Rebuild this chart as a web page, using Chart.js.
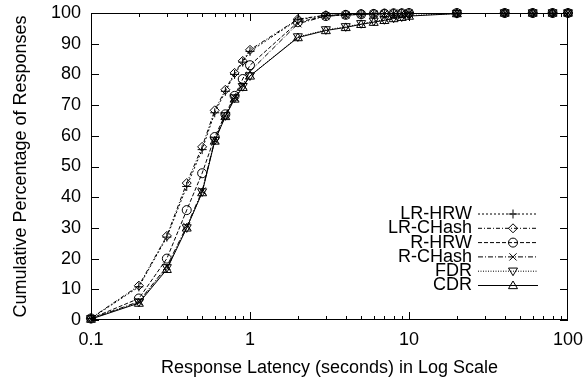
<!DOCTYPE html>
<html>
<head>
<meta charset="utf-8">
<script src="https://cdn.jsdelivr.net/npm/chart.js@4/dist/chart.umd.min.js"></script>
<style>
    html, body { margin: 0; padding: 0; background: #fff; }
    #wrap { width: 584px; height: 379px; }
</style>
</head>
<body>
<div id="wrap"><canvas id="chart" width="584" height="379"></canvas></div>
<script>
// Data
const latency = [0.1, 0.2, 0.3, 0.4, 0.5, 0.6, 0.7, 0.8, 0.9, 1, 2, 3, 4, 5, 6, 7, 8, 9, 10, 20, 40, 60, 80, 100];

const lrHrw   = [0.5, 10.8, 27, 43.5, 55.5, 67.5, 74.5, 80, 84, 87.5, 97.8, 99.2, 99.5, 99.6, 99.7, 99.8, 99.9, 99.9, 100, 100, 100, 100, 100, 100];
const lrChash = [0.6, 11.2, 27.4, 44.6, 56.4, 68.3, 75, 80.5, 84.4, 88, 98, 99.3, 99.5, 99.7, 99.8, 99.9, 99.9, 100, 100, 100, 100, 100, 100, 100];
const rHrw    = [0.5, 7, 20, 35.8, 47.8, 59.6, 67, 73, 78.5, 83, 97, 99, 99.4, 99.6, 99.7, 99.8, 99.9, 99.9, 100, 100, 100, 100, 100, 100];
const rChash  = [0.4, 6, 17.5, 30.5, 42, 58.6, 66.5, 72.5, 76.5, 81, 96.5, 99, 99.3, 99.5, 99.7, 99.8, 99.9, 99.9, 100, 100, 100, 100, 100, 100];
const fdr     = [0.4, 5.8, 17, 30, 41.7, 58.5, 66.5, 72.3, 76, 79.5, 92.2, 94.5, 95.5, 96.5, 97.3, 97.8, 98.3, 98.7, 99.2, 99.8, 100, 100, 100, 100];
const cdr     = [0.3, 5.5, 16.5, 30, 41.5, 58.3, 66.3, 72, 75.8, 79.5, 92, 94.3, 95.3, 96.3, 97, 97.6, 98.2, 98.6, 99, 99.8, 100, 100, 100, 100];

const seriesNames = ['LR-HRW', 'LR-CHash', 'R-HRW', 'R-CHash', 'FDR', 'CDR'];
const xTicks = [0.1, 1, 10, 100];
const yTicks = [0, 10, 20, 30, 40, 50, 60, 70, 80, 90, 100];

const FONT = 'Liberation Sans, Arial, Helvetica, sans-serif';

function toPoints(ys) {
    return latency.map((x, i) => ({ x: x, y: ys[i] }));
}

const styles = [
    { data: lrHrw,   dash: [2, 2],       marker: 'cross' },
    { data: lrChash, dash: [4, 2, 1, 2], marker: 'diamond' },
    { data: rHrw,    dash: [4, 2],       marker: 'circle' },
    { data: rChash,  dash: [5, 2, 1, 2], marker: 'x' },
    { data: fdr,     dash: [1, 1.5],     marker: 'tridown' },
    { data: cdr,     dash: [],           marker: 'triup' }
];

// marker drawing shared by the points and the legend
function drawMarker(ctx, type, x, y) {
    const r = 4.5;
    ctx.beginPath();
    switch (type) {
        case 'cross':
            ctx.moveTo(x - r, y); ctx.lineTo(x + r, y);
            ctx.moveTo(x, y - r); ctx.lineTo(x, y + r);
            break;
        case 'x':
            ctx.moveTo(x - r * 0.8, y - r * 0.8); ctx.lineTo(x + r * 0.8, y + r * 0.8);
            ctx.moveTo(x - r * 0.8, y + r * 0.8); ctx.lineTo(x + r * 0.8, y - r * 0.8);
            break;
        case 'diamond':
            ctx.moveTo(x, y - r); ctx.lineTo(x + r, y); ctx.lineTo(x, y + r); ctx.lineTo(x - r, y); ctx.closePath();
            break;
        case 'circle':
            ctx.arc(x, y, r, 0, Math.PI * 2);
            break;
        case 'triup':
            ctx.moveTo(x, y - r); ctx.lineTo(x + r, y + r * 0.7); ctx.lineTo(x - r, y + r * 0.7); ctx.closePath();
            break;
        case 'tridown':
            ctx.moveTo(x, y + r); ctx.lineTo(x + r, y - r * 0.7); ctx.lineTo(x - r, y - r * 0.7); ctx.closePath();
            break;
    }
    ctx.stroke();
}

const markerPlugin = {
    id: 'markers',
    afterDatasetsDraw(chart) {
        const ctx = chart.ctx;
        const xs = chart.scales.x, ys = chart.scales.y;
        ctx.save();
        ctx.strokeStyle = '#000';
        ctx.lineWidth = 1;
        ctx.setLineDash([]);
        chart.data.datasets.forEach((ds, i) => {
            ds.data.forEach(p => {
                drawMarker(ctx, styles[i].marker, xs.getPixelForValue(p.x), ys.getPixelForValue(p.y));
            });
        });
        ctx.restore();
    }
};

const framePlugin = {
    id: 'frame',
    afterDraw(chart) {
        const ctx = chart.ctx;
        const a = chart.chartArea;
        const xs = chart.scales.x, ys = chart.scales.y;
        ctx.save();
        ctx.strokeStyle = '#000';
        ctx.lineWidth = 1;
        ctx.setLineDash([]);
        ctx.strokeRect(a.left + 0.5, a.top + 0.5, a.right - a.left - 1, a.bottom - a.top - 1);

        ctx.beginPath();
        // y ticks on both sides
        yTicks.forEach(v => {
            const py = Math.round(ys.getPixelForValue(v)) + 0.5;
            ctx.moveTo(a.left, py); ctx.lineTo(a.left + 8, py);
            ctx.moveTo(a.right, py); ctx.lineTo(a.right - 8, py);
        });
        // x ticks, major and minor
        for (let dec = 0.1; dec < 100; dec *= 10) {
            for (let m = 1; m <= 9; m++) {
                const v = dec * m;
                const px = Math.round(xs.getPixelForValue(v)) + 0.5;
                const len = m === 1 ? 8 : 4;
                ctx.moveTo(px, a.bottom); ctx.lineTo(px, a.bottom - len);
                ctx.moveTo(px, a.top); ctx.lineTo(px, a.top + len);
            }
        }
        ctx.stroke();

        // legend, bottom right
        ctx.font = '18px ' + FONT;
        ctx.fillStyle = '#000';
        ctx.textAlign = 'right';
        ctx.textBaseline = 'middle';
        seriesNames.forEach((name, i) => {
            const y = 214 + i * 14.3;
            ctx.fillText(name, 472, y);
            ctx.setLineDash(styles[i].dash);
            ctx.beginPath();
            ctx.moveTo(478, y); ctx.lineTo(538, y);
            ctx.stroke();
            ctx.setLineDash([]);
            drawMarker(ctx, styles[i].marker, 513, y);
        });
        ctx.restore();
    }
};

const datasets = styles.map((s, i) => ({
    label: seriesNames[i],
    data: toPoints(s.data),
    borderColor: '#000',
    borderWidth: 1,
    borderDash: s.dash,
    pointRadius: 0,
    fill: false,
    tension: 0
}));

new Chart(document.getElementById('chart'), {
    type: 'line',
    data: { datasets: datasets },
    plugins: [markerPlugin, framePlugin],
    options: {
        responsive: false,
        animation: false,
        layout: { padding: { top: 13, right: 16, left: 0, bottom: 0 } },
        plugins: { legend: { display: false }, tooltip: { enabled: false } },
        scales: {
            x: {
                type: 'logarithmic',
                min: 0.1,
                max: 100,
                afterBuildTicks: (scale) => {
                    scale.ticks = xTicks.map(v => ({ value: v, major: true }));
                },
                afterFit: (scale) => {
                    scale.height = 59;
                    scale.paddingLeft = 0;
                    scale.paddingRight = 0;
                },
                grid: { display: false, drawTicks: false },
                border: { display: false },
                ticks: {
                    color: '#000',
                    font: { family: FONT, size: 18 },
                    padding: 9,
                    maxRotation: 0,
                    autoSkip: false,
                    callback: (v) => String(v)
                },
                title: {
                    display: true,
                    text: 'Response Latency (seconds) in Log Scale',
                    color: '#000',
                    font: { family: FONT, size: 18 },
                    padding: { top: 0, bottom: 0 }
                }
            },
            y: {
                type: 'linear',
                min: 0,
                max: 100,
                afterBuildTicks: (scale) => {
                    scale.ticks = yTicks.map(v => ({ value: v }));
                },
                afterFit: (scale) => {
                    scale.width = 91;
                    scale.paddingTop = 0;
                    scale.paddingBottom = 0;
                },
                grid: { display: false, drawTicks: false },
                border: { display: false },
                ticks: {
                    color: '#000',
                    font: { family: FONT, size: 18 },
                    padding: 10
                },
                title: {
                    display: true,
                    text: 'Cumulative Percentage of Responses',
                    color: '#000',
                    font: { family: FONT, size: 18 },
                    padding: { top: 10, bottom: 0 }
                }
            }
        }
    }
});
</script>
</body>
</html>
